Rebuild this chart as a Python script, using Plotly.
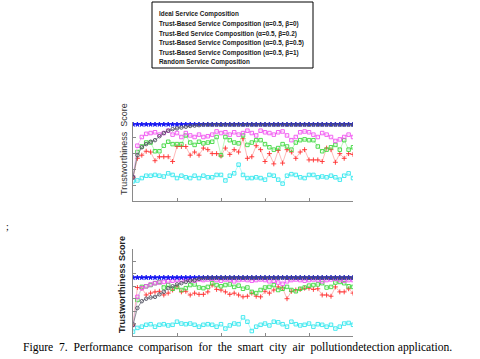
import plotly.graph_objects as go

# ---------------- data ----------------
rounds = list(range(0, 51))

legend_labels = [
    "Ideal Service Composition",
    "Trust-Based Service Composition (\u03b1=0.5, \u03b2=0)",
    "Trust-Bed Service Composition (\u03b1=0.5, \u03b2=0.2)",
    "Trust-Based Service Composition (\u03b1=0.5, \u03b2=0.5)",
    "Trust-Based Service Composition (\u03b1=0.5, \u03b2=1)",
    "Random Service Composition",
]

# Chart 1 (top)
ideal_1 = [0.97, 0.97, 0.97, 0.97, 0.97, 0.97, 0.97, 0.97, 0.97, 0.97, 0.97, 0.97, 0.97,
           0.97, 0.97, 0.97, 0.97, 0.97, 0.97, 0.97, 0.97, 0.97, 0.97, 0.97, 0.97, 0.97,
           0.97, 0.97, 0.97, 0.97, 0.97, 0.97, 0.97, 0.97, 0.97, 0.97, 0.97, 0.97, 0.97,
           0.97, 0.97, 0.97, 0.97, 0.97, 0.97, 0.97, 0.97, 0.97, 0.97, 0.97, 0.97]
beta0_1 = [0.30, 0.58, 0.68, 0.72, 0.75, 0.77, 0.82, 0.86, 0.89, 0.91, 0.92, 0.93, 0.94,
           0.95, 0.955, 0.96, 0.965, 0.965, 0.965, 0.965, 0.965, 0.965, 0.965, 0.965, 0.965,
           0.965, 0.965, 0.965, 0.965, 0.965, 0.965, 0.965, 0.965, 0.965, 0.965, 0.965, 0.965,
           0.965, 0.965, 0.965, 0.965, 0.965, 0.965, 0.965, 0.965, 0.965, 0.965, 0.965, 0.965,
           0.965, 0.965]
beta02_1 = [0.30, 0.70, 0.81, 0.85, 0.86, 0.87, 0.84, 0.86, 0.89, 0.84, 0.86, 0.81, 0.86,
            0.83, 0.81, 0.84, 0.81, 0.82, 0.84, 0.88, 0.86, 0.87, 0.84, 0.87, 0.84, 0.86,
            0.89, 0.86, 0.83, 0.89, 0.87, 0.86, 0.84, 0.87, 0.88, 0.83, 0.77, 0.81, 0.87,
            0.88, 0.87, 0.84, 0.81, 0.86, 0.84, 0.81, 0.76, 0.78, 0.81, 0.84, 0.81]
beta05_1 = [0.30, 0.62, 0.69, 0.74, 0.74, 0.63, 0.63, 0.70, 0.75, 0.72, 0.72, 0.72, 0.83,
            0.74, 0.71, 0.75, 0.73, 0.74, 0.75, 0.81, 0.58, 0.81, 0.77, 0.74, 0.73, 0.83,
            0.71, 0.74, 0.77, 0.77, 0.72, 0.68, 0.65, 0.67, 0.72, 0.69, 0.65, 0.74, 0.77,
            0.78, 0.77, 0.77, 0.69, 0.63, 0.65, 0.68, 0.71, 0.65, 0.77, 0.65, 0.68]
beta1_1 = [0.30, 0.54, 0.58, 0.63, 0.62, 0.51, 0.56, 0.56, 0.56, 0.50, 0.69, 0.69, 0.69,
           0.58, 0.62, 0.58, 0.67, 0.65, 0.60, 0.60, 0.57, 0.67, 0.59, 0.65, 0.62, 0.79,
           0.54, 0.56, 0.70, 0.65, 0.50, 0.60, 0.47, 0.64, 0.48, 0.65, 0.62, 0.54, 0.62,
           0.65, 0.52, 0.52, 0.52, 0.50, 0.67, 0.65, 0.49, 0.60, 0.54, 0.60, 0.59]
random_1 = [0.25, 0.26, 0.29, 0.32, 0.32, 0.33, 0.32, 0.31, 0.35, 0.33, 0.29, 0.32, 0.30,
            0.29, 0.32, 0.29, 0.32, 0.30, 0.30, 0.33, 0.33, 0.26, 0.32, 0.35, 0.46, 0.33,
            0.29, 0.29, 0.30, 0.29, 0.27, 0.33, 0.32, 0.27, 0.22, 0.32, 0.34, 0.33, 0.30,
            0.29, 0.33, 0.33, 0.30, 0.31, 0.30, 0.32, 0.30, 0.27, 0.32, 0.35, 0.29]

# Chart 2 (bottom)
ideal_2 = [0.94, 0.94, 0.94, 0.94, 0.94, 0.94, 0.94, 0.94, 0.94, 0.94, 0.94, 0.94, 0.94,
           0.94, 0.94, 0.94, 0.94, 0.94, 0.94, 0.94, 0.94, 0.94, 0.94, 0.94, 0.94, 0.94,
           0.94, 0.94, 0.94, 0.94, 0.94, 0.94, 0.94, 0.94, 0.94, 0.94, 0.94, 0.94, 0.94,
           0.94, 0.94, 0.94, 0.94, 0.94, 0.94, 0.94, 0.94, 0.94, 0.94, 0.94, 0.94]
beta0_2 = [0.18, 0.45, 0.56, 0.60, 0.62, 0.63, 0.67, 0.71, 0.77, 0.80, 0.83, 0.85, 0.87,
           0.89, 0.90, 0.92, 0.93, 0.935, 0.935, 0.935, 0.935, 0.935, 0.935, 0.935, 0.935,
           0.935, 0.935, 0.935, 0.935, 0.935, 0.935, 0.935, 0.935, 0.935, 0.935, 0.935, 0.935,
           0.935, 0.935, 0.935, 0.935, 0.935, 0.935, 0.935, 0.935, 0.935, 0.935, 0.935, 0.935,
           0.935, 0.935]
beta02_2 = [0.18, 0.63, 0.77, 0.80, 0.83, 0.85, 0.86, 0.87, 0.88, 0.89, 0.90, 0.90, 0.91,
            0.90, 0.89, 0.91, 0.90, 0.91, 0.92, 0.90, 0.89, 0.91, 0.90, 0.88, 0.90, 0.91,
            0.90, 0.89, 0.90, 0.91, 0.90, 0.88, 0.89, 0.86, 0.84, 0.88, 0.90, 0.91, 0.90,
            0.89, 0.90, 0.91, 0.90, 0.88, 0.90, 0.91, 0.92, 0.90, 0.89, 0.90, 0.90]
beta05_2 = [0.18, 0.58, 0.79, 0.80, 0.82, 0.85, 0.87, 0.78, 0.82, 0.76, 0.79, 0.74, 0.77,
            0.82, 0.83, 0.78, 0.77, 0.79, 0.85, 0.82, 0.80, 0.82, 0.83, 0.79, 0.81, 0.76,
            0.78, 0.71, 0.69, 0.74, 0.78, 0.79, 0.82, 0.74, 0.76, 0.79, 0.74, 0.72, 0.76,
            0.78, 0.81, 0.82, 0.83, 0.85, 0.78, 0.79, 0.86, 0.87, 0.85, 0.80, 0.79]
beta1_2 = [0.18, 0.78, 0.77, 0.66, 0.69, 0.71, 0.72, 0.66, 0.69, 0.74, 0.79, 0.71, 0.72,
           0.66, 0.69, 0.67, 0.67, 0.71, 0.82, 0.75, 0.74, 0.71, 0.67, 0.69, 0.66, 0.63,
           0.64, 0.69, 0.64, 0.63, 0.72, 0.69, 0.74, 0.79, 0.77, 0.60, 0.72, 0.74, 0.75,
           0.77, 0.77, 0.75, 0.76, 0.66, 0.66, 0.64, 0.79, 0.71, 0.71, 0.76, 0.69]
random_2 = [0.07, 0.13, 0.15, 0.18, 0.19, 0.15, 0.18, 0.19, 0.17, 0.18, 0.23, 0.20, 0.19,
            0.20, 0.18, 0.15, 0.18, 0.19, 0.18, 0.15, 0.19, 0.12, 0.17, 0.20, 0.19, 0.30,
            0.23, 0.08, 0.15, 0.18, 0.20, 0.17, 0.23, 0.22, 0.19, 0.15, 0.23, 0.19, 0.17,
            0.18, 0.20, 0.15, 0.19, 0.18, 0.15, 0.18, 0.12, 0.15, 0.20, 0.21, 0.18]

# ---------------- styles ----------------
W, H = 480, 359
AX_COLOR = "#8a8a8a"


def px_x(p):
    return p / W


def px_y(p):
    return 1 - p / H


series_1 = [random_1, beta1_1, beta05_1, beta02_1, ideal_1, beta0_1]
series_2 = [random_2, beta1_2, beta05_2, beta02_2, ideal_2, beta0_2]
names = [legend_labels[5], legend_labels[4], legend_labels[3], legend_labels[2],
         legend_labels[0], legend_labels[1]]
styles = [
    dict(line="#8ff6f6", mk="#30e6ee", sym="square-open", size=3.5),
    dict(line="#ff9a9a", mk="#ff3030", sym="cross-thin-open", size=3.5),
    dict(line="#9cf29c", mk="#3cd63c", sym="square-open", size=3.5),
    dict(line="#f6a8f6", mk="#f050f0", sym="square-open", size=3.5),
    dict(line="#3030ff", mk="#1414f0", sym="star", size=3.5),
    dict(line="#606070", mk="#505060", sym="circle-open", size=3.5),
]

fig = go.Figure()
for vals_list, xa, ya in [(series_1, "x", "y"), (series_2, "x2", "y2")]:
    for vals, nm, st in zip(vals_list, names, styles):
        fig.add_trace(go.Scatter(
            x=rounds, y=vals, name=nm, mode="lines+markers",
            xaxis=xa, yaxis=ya, showlegend=False,
            line=dict(color=st["line"], width=0.7),
            marker=dict(symbol=st["sym"], size=st["size"], color=st["mk"],
                        line=dict(color=st["mk"], width=0.9)),
        ))

axis_common = dict(showline=True, linecolor=AX_COLOR, linewidth=1, mirror=False,
                   showgrid=False, zeroline=False, ticks="inside", ticklen=3,
                   tickcolor=AX_COLOR, showticklabels=False)

dom_x = [px_x(133), px_x(353)]
fig.update_layout(
    width=W, height=H,
    margin=dict(l=0, r=0, t=0, b=0),
    paper_bgcolor="white", plot_bgcolor="white",
    showlegend=False,
    xaxis=dict(domain=dom_x, range=[0, 50], dtick=10, anchor="y", **axis_common),
    yaxis=dict(domain=[px_y(201), px_y(122)], range=[0, 1.0], dtick=0.2,
               anchor="x", **axis_common),
    xaxis2=dict(domain=dom_x, range=[0, 50], dtick=10, anchor="y2", **axis_common),
    yaxis2=dict(domain=[px_y(336), px_y(249)], range=[0, 1.4], dtick=0.2,
                anchor="x2", **axis_common),
)

# legend box (text only, as in the original figure)
fig.add_shape(type="rect", xref="paper", yref="paper",
              x0=px_x(152), x1=px_x(313), y0=px_y(68), y1=px_y(2),
              line=dict(color="black", width=1), fillcolor="white")
legend_rows = [14, 24, 33.5, 43, 52.5, 62]
for lab, py in zip(legend_labels, legend_rows):
    fig.add_annotation(text="<b>" + lab + "</b>", xref="paper", yref="paper",
                       x=px_x(157), y=px_y(py),
                       xanchor="left", yanchor="middle", showarrow=False,
                       font=dict(family="Liberation Sans", size=6.4, color="#1a1a1a"))

# y-axis titles
fig.add_annotation(text="Trustworthiness\u00a0\u00a0Score", xref="paper", yref="paper",
                   x=px_x(124), y=px_y(149), textangle=-90, showarrow=False,
                   xanchor="center", yanchor="middle",
                   font=dict(family="Liberation Sans", size=9, color="#333"))
fig.add_annotation(text="<b>Trustworthiness Score</b>", xref="paper", yref="paper",
                   x=px_x(122), y=px_y(285), textangle=-90, showarrow=False,
                   xanchor="center", yanchor="middle",
                   font=dict(family="Liberation Sans", size=9, color="#222"))

# stray semicolon and caption
fig.add_annotation(text=";", xref="paper", yref="paper", x=px_x(4), y=px_y(226),
                   xanchor="left", yanchor="middle", showarrow=False,
                   font=dict(family="Liberation Serif", size=10, color="black"))
fig.add_annotation(
    text="Figure\u00a0\u00a07.\u00a0\u00a0Performance\u00a0\u00a0comparison\u00a0\u00a0for\u00a0\u00a0the\u00a0\u00a0smart\u00a0\u00a0city\u00a0\u00a0air\u00a0\u00a0pollutiondetection application.",
    xref="paper", yref="paper", x=px_x(237), y=px_y(347),
    xanchor="center", yanchor="middle", showarrow=False,
    font=dict(family="Liberation Serif", size=11.6, color="black"))

fig.write_html("out.html", config={"displayModeBar": False},
               post_script="document.body.style.margin='0';document.body.style.overflow='hidden';")
